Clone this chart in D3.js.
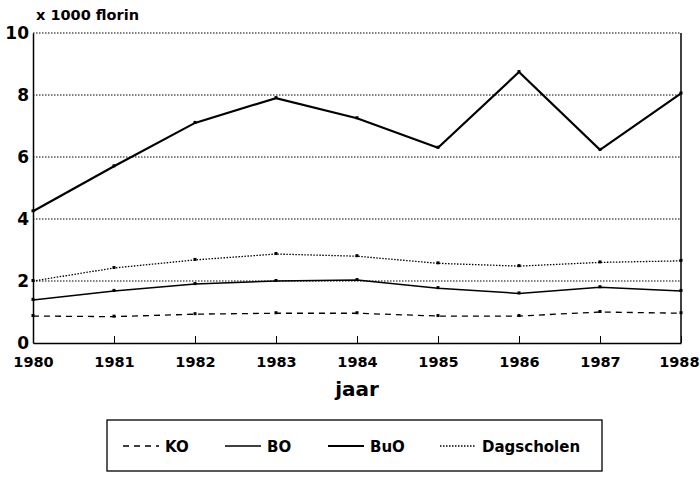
<!DOCTYPE html>
<html><head><meta charset="utf-8">
<script src="https://cdn.jsdelivr.net/npm/d3@7"></script>
<style>body{margin:0;background:#fff}svg text{font-family:"DejaVu Sans",Arial,sans-serif;font-weight:bold;fill:#000}</style>
</head><body><svg id="c" width="700" height="477"></svg>
<script>
const years = [1980,1981,1982,1983,1984,1985,1986,1987,1988];
const KO = [0.87,0.85,0.93,0.96,0.96,0.87,0.87,1.0,0.96];
const BO = [1.39,1.68,1.9,2.0,2.03,1.77,1.6,1.8,1.68];
const BuO = [4.25,5.7,7.1,7.9,7.25,6.3,8.74,6.23,8.05];
const Dagscholen = [2.0,2.42,2.68,2.87,2.8,2.57,2.48,2.6,2.65];
const yTicks = [0,2,4,6,8,10];
const seriesNames = ["KO","BO","BuO","Dagscholen"];

const svg = d3.select("#c");
const x = d3.scaleLinear().domain([1980,1988]).range([33,681]);
const y = d3.scaleLinear().domain([0,10]).range([343,33]);

// gridlines
svg.append("g").selectAll("line").data(yTicks.filter(d=>d>0)).join("line")
  .attr("x1",x(1980)).attr("x2",x(1988)).attr("y1",d=>y(d)).attr("y2",d=>y(d))
  .attr("stroke","#000").attr("stroke-width",1).attr("stroke-dasharray","1.5,1.5");

// axes
const xAxis = d3.axisBottom(x).tickValues(years).tickFormat(d3.format("d")).tickSizeInner(-7).tickSizeOuter(0).tickPadding(14);
const gx = svg.append("g").attr("transform",`translate(0,${y(0)})`).call(xAxis);
gx.select(".domain").attr("stroke-width",1.5);
gx.selectAll("text").attr("font-size",14.5);
gx.selectAll(".tick").filter(d=>d===1988).select("text").attr("text-anchor","end").attr("dx",18);
const yAxis = d3.axisLeft(y).tickValues(yTicks).tickSizeInner(0).tickSizeOuter(0).tickPadding(4);
const gy = svg.append("g").attr("transform",`translate(${x(1980)},0)`).call(yAxis);
gy.select(".domain").attr("stroke-width",1.5);
gy.selectAll("text").attr("font-size",17);
svg.append("line").attr("x1",x(1988)).attr("x2",x(1988)).attr("y1",y(10)).attr("y2",y(0)).attr("stroke","#000").attr("stroke-width",1.5);

svg.append("text").attr("x",36).attr("y",20).attr("font-size",14.5).text("x 1000 florin");
svg.append("text").attr("x",357).attr("y",396).attr("text-anchor","middle").attr("font-size",20).text("jaar");

const styles = {
  KO:{w:1.3,dash:"6,5"},
  BO:{w:1.5,dash:null},
  BuO:{w:2.2,dash:null},
  Dagscholen:{w:1.3,dash:"1.5,1.5"}
};
const data = {KO,BO,BuO,Dagscholen};
const line = d3.line().x((d,i)=>x(years[i])).y(d=>y(d));
seriesNames.forEach(n=>{
  svg.append("path").datum(data[n]).attr("d",line).attr("fill","none").attr("stroke","#000")
    .attr("stroke-width",styles[n].w).attr("stroke-dasharray",styles[n].dash);
  svg.append("g").selectAll("rect").data(data[n]).join("rect")
    .attr("x",(d,i)=>x(years[i])-1.5).attr("y",d=>y(d)-2).attr("width",3).attr("height",3).attr("fill","#000");
});

// legend
const lg = svg.append("g");
lg.append("rect").attr("x",107).attr("y",420).attr("width",495).attr("height",51).attr("fill","none").attr("stroke","#000").attr("stroke-width",1.3);
const lx = [123,225,328,440];
seriesNames.forEach((n,i)=>{
  lg.append("line").attr("x1",lx[i]).attr("x2",lx[i]+36).attr("y1",446).attr("y2",446).attr("stroke","#000")
    .attr("stroke-width",styles[n].w).attr("stroke-dasharray",styles[n].dash);
  lg.append("text").attr("x",lx[i]+42).attr("y",452).attr("font-size",15).text(n);
});
</script></body></html>
